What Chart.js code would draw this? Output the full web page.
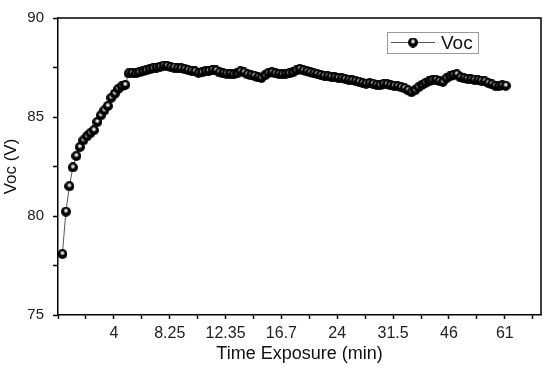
<!DOCTYPE html>
<html>
<head>
<meta charset="utf-8">
<script src="https://cdn.jsdelivr.net/npm/chart.js@4/dist/chart.umd.min.js"></script>
<style>
  html, body { margin: 0; padding: 0; background: #fff; }
  canvas { display: block; }
</style>
</head>
<body>
<canvas id="chart" width="549" height="368"></canvas>
<script>
// Voc, one value per sample (sample index on x)
const vocValues = [
  78.08, 80.22, 81.5, 82.45, 83.03, 83.48, 83.82, 84.02, 84.18, 84.33,
  84.75, 85.08, 85.33, 85.55, 85.97, 86.18, 86.42, 86.55, 86.62, 87.2,
  87.22, 87.2, 87.25, 87.3, 87.35, 87.4, 87.45, 87.5, 87.55, 87.6,
  87.58, 87.52, 87.5, 87.45, 87.45, 87.42, 87.38, 87.33, 87.3, 87.22,
  87.25, 87.3, 87.33, 87.38, 87.35, 87.25, 87.2, 87.18, 87.17, 87.15,
  87.2, 87.3, 87.25, 87.15, 87.1, 87.08, 87.0, 86.97, 87.1, 87.22,
  87.25, 87.2, 87.17, 87.15, 87.17, 87.2, 87.25, 87.35, 87.42, 87.35,
  87.3, 87.25, 87.2, 87.17, 87.12, 87.08, 87.05, 87.02, 87.0, 86.97,
  86.95, 86.92, 86.88, 86.85, 86.82, 86.78, 86.72, 86.68, 86.7, 86.68,
  86.62, 86.6, 86.67, 86.65, 86.6, 86.58, 86.55, 86.5, 86.45, 86.35,
  86.25, 86.35, 86.5, 86.62, 86.72, 86.8, 86.85, 86.88, 86.82, 86.78,
  86.95, 87.05, 87.12, 87.15, 87.0, 86.95, 86.92, 86.9, 86.88, 86.85,
  86.83, 86.8, 86.72, 86.65, 86.58, 86.55, 86.6, 86.58
]

// labels of the major x ticks (first major tick sits on the y axis, unlabelled)
const xTickLabels = ['', '4', '8.25', '12.35', '16.7', '24', '31.5', '46', '61']
const yTickLabels = [75, 80, 85, 90]

const seriesName = 'Voc'
const xTitle = 'Time Exposure (min)'
const yTitle = 'Voc (V)'

const FONT = '"Liberation Sans", Arial, sans-serif'
const X_MIN = -1.26
const X_MAX = 137.1
const MAJOR_STEP = 16

function makeBead (r) {
  const c = document.createElement('canvas')
  c.width = r * 2
  c.height = r * 2
  const ctx = c.getContext('2d')
  ctx.fillStyle = '#000'
  ctx.beginPath()
  ctx.arc(r, r, r, 0, Math.PI * 2)
  ctx.fill()
  const g = ctx.createRadialGradient(r, r * 0.8, 0, r, r * 0.8, r * 0.6)
  g.addColorStop(0, 'rgba(255,255,255,1)')
  g.addColorStop(0.45, 'rgba(230,230,230,0.9)')
  g.addColorStop(1, 'rgba(0,0,0,0)')
  ctx.fillStyle = g
  ctx.beginPath()
  ctx.arc(r, r, r, 0, Math.PI * 2)
  ctx.fill()
  return c
}

const bead = makeBead(5)

// frame on top/right plus the boxed legend
const framePlugin = {
  id: 'frame',
  afterDraw (chart) {
    const { ctx, chartArea } = chart
    ctx.save()
    ctx.strokeStyle = '#000'
    ctx.lineWidth = 1.5
    ctx.beginPath()
    ctx.moveTo(chartArea.left, chartArea.top)
    ctx.lineTo(chartArea.right, chartArea.top)
    ctx.lineTo(chartArea.right, chartArea.bottom)
    ctx.stroke()

    // legend
    const bx = 387
    const by = 32
    ctx.strokeStyle = '#9a9a9a'
    ctx.lineWidth = 1
    ctx.strokeRect(bx + 0.5, by + 0.5, 91, 21)
    ctx.strokeStyle = '#555'
    ctx.beginPath()
    ctx.moveTo(bx + 4, by + 10.5)
    ctx.lineTo(bx + 48, by + 10.5)
    ctx.stroke()
    ctx.drawImage(bead, bx + 26 - 5, by + 10.5 - 5)
    ctx.fillStyle = '#111'
    ctx.font = '19px ' + FONT
    ctx.textBaseline = 'middle'
    ctx.textAlign = 'left'
    ctx.fillText(seriesName, bx + 54, by + 12)
    ctx.restore()
  }
}

new Chart(document.getElementById('chart'), {
  type: 'line',
  data: {
    datasets: [{
      label: seriesName,
      data: vocValues.map((v, i) => ({ x: i, y: v })),
      borderColor: '#555',
      borderWidth: 1,
      pointStyle: bead,
      pointRadius: 5,
      tension: 0
    }]
  },
  options: {
    responsive: false,
    animation: false,
    devicePixelRatio: 1,
    layout: { padding: { top: 15, right: 8, left: 0, bottom: 0 } },
    plugins: {
      legend: { display: false },
      tooltip: { enabled: false }
    },
    scales: {
      x: {
        type: 'linear',
        min: X_MIN,
        max: X_MAX,
        afterFit (scale) { scale.height = 53 },
        afterBuildTicks (scale) {
          const ticks = []
          for (let k = 0; X_MIN + k * MAJOR_STEP / 2 <= X_MAX; k++) {
            ticks.push({ value: X_MIN + k * MAJOR_STEP / 2 })
          }
          scale.ticks = ticks
        },
        ticks: {
          autoSkip: false,
          maxRotation: 0,
          padding: 5,
          color: '#222',
          font: { family: FONT, size: 16 },
          callback (value, index) {
            if (index % 2 !== 0) return ''
            return xTickLabels[index / 2] || ''
          }
        },
        grid: { drawOnChartArea: false, tickLength: 4, tickColor: '#000', tickWidth: 1.5 },
        border: { color: '#000', width: 1.5 },
        title: {
          display: true,
          text: xTitle,
          color: '#111',
          font: { family: FONT, size: 18 },
          padding: { top: 0, bottom: 3 }
        }
      },
      y: {
        min: 75,
        max: 90,
        afterFit (scale) { scale.width = 58 },
        ticks: {
          stepSize: 2.5,
          padding: 9,
          color: '#222',
          font: { family: FONT, size: 15 },
          callback (value) {
            return yTickLabels.includes(value) ? String(value) : ''
          }
        },
        grid: { drawOnChartArea: false, tickLength: 5, tickColor: '#000', tickWidth: 1.5 },
        border: { color: '#000', width: 1.5 },
        title: {
          display: true,
          text: yTitle,
          color: '#111',
          font: { family: FONT, size: 17 },
          padding: { top: 1, bottom: 0 }
        }
      }
    }
  },
  plugins: [framePlugin]
})
</script>
</body>
</html>
